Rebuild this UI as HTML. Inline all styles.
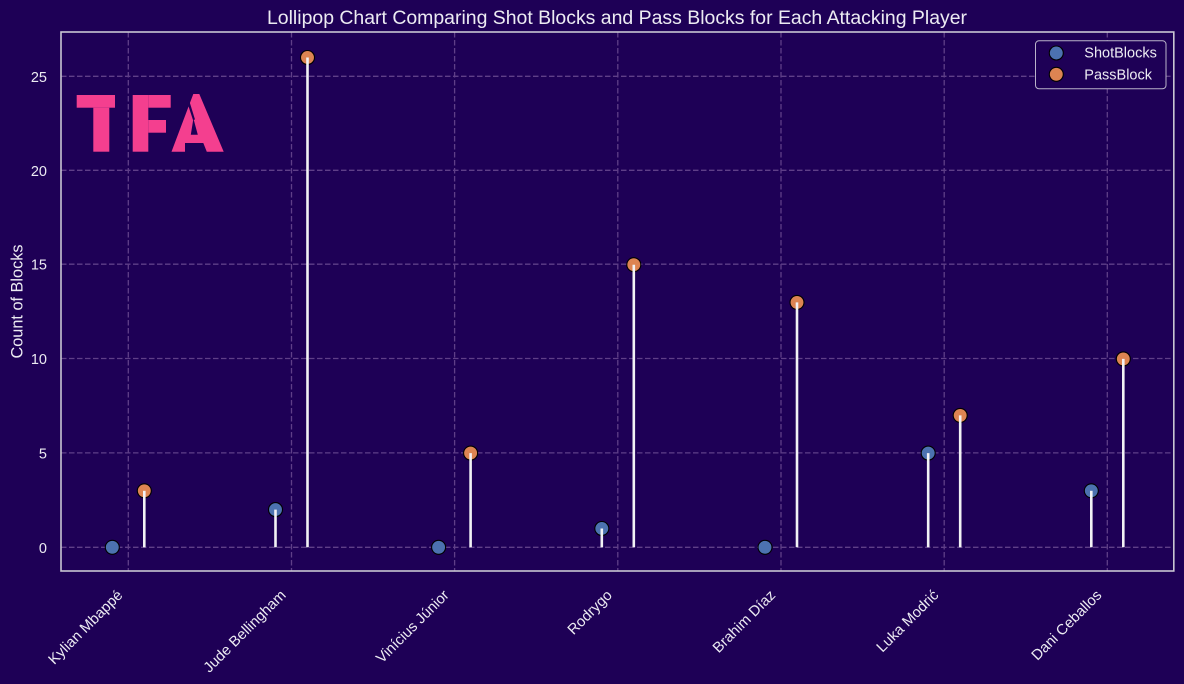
<!DOCTYPE html>
<html>
<head>
<meta charset="utf-8">
<style>
  html,body{margin:0;padding:0;background:#1e0056;}
  svg{display:block;}
  text{font-family:"Liberation Sans", Arial, sans-serif;fill:#ecebf2;}
</style>
</head>
<body>
<svg width="1184" height="684" viewBox="0 0 1184 684" xmlns="http://www.w3.org/2000/svg">
  <rect x="0" y="0" width="1184" height="684" fill="#1e0056"/>

  <!-- grid -->
  <g stroke="#5f3f88" stroke-width="1.3" stroke-dasharray="5.5 2.5" fill="none">
    <line x1="61" y1="547.3" x2="1174" y2="547.3"/>
    <line x1="61" y1="452.9" x2="1174" y2="452.9"/>
    <line x1="61" y1="358.5" x2="1174" y2="358.5"/>
    <line x1="61" y1="264.2" x2="1174" y2="264.2"/>
    <line x1="61" y1="170.3" x2="1174" y2="170.3"/>
    <line x1="61" y1="76.3" x2="1174" y2="76.3"/>
    <line x1="128.3" y1="32" x2="128.3" y2="571"/>
    <line x1="291.5" y1="32" x2="291.5" y2="571"/>
    <line x1="454.6" y1="32" x2="454.6" y2="571"/>
    <line x1="617.8" y1="32" x2="617.8" y2="571"/>
    <line x1="781.0" y1="32" x2="781.0" y2="571"/>
    <line x1="944.2" y1="32" x2="944.2" y2="571"/>
    <line x1="1107.3" y1="32" x2="1107.3" y2="571"/>
  </g>

  <!-- TFA logo -->
  <g fill="#f43f8f">
    <rect x="76.7" y="95" width="38.3" height="12.7"/>
    <rect x="93.3" y="107.7" width="16" height="44"/>
    <rect x="132.7" y="95" width="15.6" height="56.7"/>
    <rect x="148.3" y="95" width="22.4" height="12.7"/>
    <rect x="148.3" y="120" width="17.7" height="12.7"/>
    <polygon points="171.5,151.7 193.3,94 199.3,94 223.7,151.7 206.8,151.7 203.3,143 185,143 185,151.7"/>
  </g>
  <g fill="#1e0056">
    <polygon points="187.6,103.5 189.3,101 195,119.5 193,120"/>
    <polygon points="193.4,118.5 190.8,134.8 197.8,134.8"/>
  </g>

  <!-- markers: ShotBlocks (blue) -->
  <g fill="#4c72b0" stroke="#000" stroke-width="1.1">
    <circle cx="112.3" cy="547.3" r="7"/>
    <circle cx="275.5" cy="509.6" r="7"/>
    <circle cx="438.6" cy="547.3" r="7"/>
    <circle cx="601.8" cy="528.5" r="7"/>
    <circle cx="765.0" cy="547.3" r="7"/>
    <circle cx="928.2" cy="453.1" r="7"/>
    <circle cx="1091.3" cy="490.8" r="7"/>
  </g>
  <!-- markers: PassBlock (orange) -->
  <g fill="#dd8452" stroke="#000" stroke-width="1.1">
    <circle cx="144.3" cy="490.8" r="7"/>
    <circle cx="307.5" cy="57.5" r="7"/>
    <circle cx="470.6" cy="453.1" r="7"/>
    <circle cx="633.8" cy="264.7" r="7"/>
    <circle cx="797.0" cy="302.4" r="7"/>
    <circle cx="960.2" cy="415.4" r="7"/>
    <circle cx="1123.3" cy="358.9" r="7"/>
  </g>

  <!-- stems -->
  <g stroke="#f2f2f5" stroke-width="2.6">
    <line x1="275.5" y1="547.3" x2="275.5" y2="509.6"/>
    <line x1="601.8" y1="547.3" x2="601.8" y2="528.5"/>
    <line x1="928.2" y1="547.3" x2="928.2" y2="453.1"/>
    <line x1="1091.3" y1="547.3" x2="1091.3" y2="490.8"/>
    <line x1="144.3" y1="547.3" x2="144.3" y2="490.8"/>
    <line x1="307.5" y1="547.3" x2="307.5" y2="57.5"/>
    <line x1="470.6" y1="547.3" x2="470.6" y2="453.1"/>
    <line x1="633.8" y1="547.3" x2="633.8" y2="264.7"/>
    <line x1="797.0" y1="547.3" x2="797.0" y2="302.4"/>
    <line x1="960.2" y1="547.3" x2="960.2" y2="415.4"/>
    <line x1="1123.3" y1="547.3" x2="1123.3" y2="358.9"/>
  </g>

  <!-- spines -->
  <rect x="61" y="32" width="1112.8" height="539" fill="none" stroke="#c9c6d2" stroke-width="1.6"/>

  <!-- y tick labels -->
  <g font-size="14.5" text-anchor="end">
    <text x="47" y="552.8">0</text>
    <text x="47" y="458.4">5</text>
    <text x="47" y="364">10</text>
    <text x="47" y="269.7">15</text>
    <text x="47" y="175.8">20</text>
    <text x="47" y="81.8">25</text>
  </g>

  <!-- x tick labels -->
  <g font-size="14.8" text-anchor="end">
    <text transform="translate(123.5,596) rotate(-45)">Kylian Mbappé</text>
    <text transform="translate(286.7,596) rotate(-45)">Jude Bellingham</text>
    <text transform="translate(449.8,596) rotate(-45)">Vinícius Júnior</text>
    <text transform="translate(613.0,596) rotate(-45)">Rodrygo</text>
    <text transform="translate(776.2,596) rotate(-45)">Brahim Díaz</text>
    <text transform="translate(939.4,596) rotate(-45)">Luka Modrić</text>
    <text transform="translate(1102.5,596) rotate(-45)">Dani Ceballos</text>
  </g>

  <!-- y label -->
  <text transform="translate(22.5,301.5) rotate(-90)" font-size="16.3" text-anchor="middle">Count of Blocks</text>

  <!-- title -->
  <text x="267" y="24" font-size="19" textLength="700" lengthAdjust="spacingAndGlyphs">Lollipop Chart Comparing Shot Blocks and Pass Blocks for Each Attacking Player</text>

  <!-- legend -->
  <rect x="1035.5" y="40.8" width="130.5" height="48" rx="3.5" ry="3.5" fill="#1e0056" stroke="#b9b3c9" stroke-width="1"/>
  <circle cx="1056.3" cy="53" r="7" fill="#4c72b0" stroke="#000" stroke-width="1.1"/>
  <circle cx="1056.3" cy="74.3" r="7" fill="#dd8452" stroke="#000" stroke-width="1.1"/>
  <text x="1084.3" y="57.5" font-size="14.5">ShotBlocks</text>
  <text x="1084.3" y="79.3" font-size="14.5">PassBlock</text>
</svg>
</body>
</html>
